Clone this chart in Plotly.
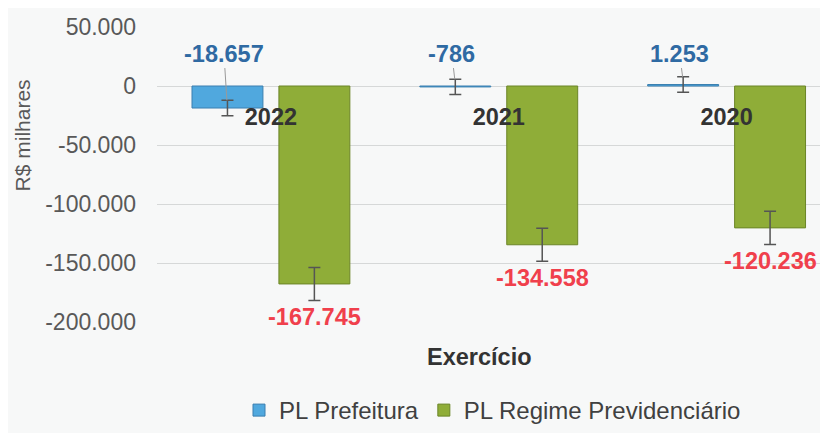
import plotly.graph_objects as go

categories = ["2022", "2021", "2020"]
pl_prefeitura = [-18657, -786, 1253]
pl_regime = [-167745, -134558, -120236]
err_prefeitura = [6500, 6500, 6500]
err_regime = [14000, 14000, 14000]
y_ticks = [50000, 0, -50000, -100000, -150000, -200000]
y_ticklabels = ["50.000", "0", "-50.000", "-100.000", "-150.000", "-200.000"]
blue_label_level = 27500


def fmt(v):
    return f"{v:,}".replace(",", ".")


FONT = "Liberation Sans, Arial, sans-serif"
BG = "#f7f8f8"

# page body has an 8px margin; lay out in screen pixels minus that offset
OFF = 8
W, H = 828 - OFF, 433 - OFF
L, R, T, B = 157 - OFF, 0, 27 - OFF, 433 - 329
pw, ph = W - L - R, H - T - B

fig = go.Figure()
fig.add_bar(
    x=categories, y=pl_prefeitura, name="PL Prefeitura",
    marker=dict(color="#50a8de", line=dict(color="#3a7fb0", width=1)),
    error_y=dict(type="data", array=err_prefeitura, color="#555555", thickness=1.5, width=6),
)
fig.add_bar(
    x=categories, y=pl_regime, name="PL Regime Previdenciário",
    marker=dict(color="#8fad38", line=dict(color="#6b8527", width=1)),
    error_y=dict(type="data", array=err_regime, color="#555555", thickness=1.5, width=6),
)

annotations = []
for i, (v, e) in enumerate(zip(pl_prefeitura, err_prefeitura)):
    annotations.append(dict(
        x=i, y=v + e, xref="x", yref="y", text=fmt(v), showarrow=True,
        arrowhead=0, arrowwidth=1, arrowcolor="#9a9a9a", standoff=0,
        axref="pixel", ax=-3, ayref="y", ay=blue_label_level,
        xshift=-44, yanchor="middle",
        font=dict(family=FONT, size=23.5, color="#2f6aa3", weight="bold"),
    ))
for i, v in enumerate(pl_regime):
    annotations.append(dict(
        x=i, y=v, xref="x", yref="y", text=fmt(v), showarrow=False,
        xshift=44, yshift=-33, yanchor="middle",
        font=dict(family=FONT, size=23.5, color="#f0404c", weight="bold"),
    ))

# titles given in reference screen pixels
titles = [
    dict(x=22, y=138, text="R$ milhares", textangle=-90,
         font=dict(family=FONT, size=21, color="#595959")),
    dict(x=479, y=365, text="Exercício",
         font=dict(family=FONT, size=23.5, color="#333333", weight="bold")),
]
for a in titles:
    a.update(
        xref="paper", yref="paper", showarrow=False,
        x=(a["x"] - OFF - L) / pw, y=(H - B - (a["y"] - OFF)) / ph,
        xanchor="center", yanchor="middle",
    )
    annotations.append(a)

fig.update_layout(
    width=W, height=H,
    margin=dict(l=L, r=R, t=T, b=B),
    paper_bgcolor=BG, plot_bgcolor=BG,
    barmode="group", bargap=0.237, bargroupgap=0.184,
    separators=",.",
    font=dict(family=FONT),
    xaxis=dict(
        type="category", range=[-0.5, 2.445],
        anchor="free", position=0.8,
        showgrid=False, showline=False, zeroline=False, ticks="",
        ticklabelstandoff=14,
        tickfont=dict(family=FONT, size=23.5, color="#333333", weight="bold"),
    ),
    yaxis=dict(
        range=[-200000, 50000],
        tickvals=y_ticks, ticktext=y_ticklabels,
        tickfont=dict(family=FONT, size=23, color="#595959"),
        gridcolor="#d6d8d8", gridwidth=1, zeroline=False, showline=False,
        ticks="", ticklabelstandoff=20,
    ),
    legend=dict(
        orientation="h", x=0.5, xanchor="center", y=-0.3, yanchor="middle",
        font=dict(family=FONT, size=24, color="#404040"),
        bgcolor="rgba(0,0,0,0)",
    ),
    annotations=annotations,
)

fig.write_html("out.html")
